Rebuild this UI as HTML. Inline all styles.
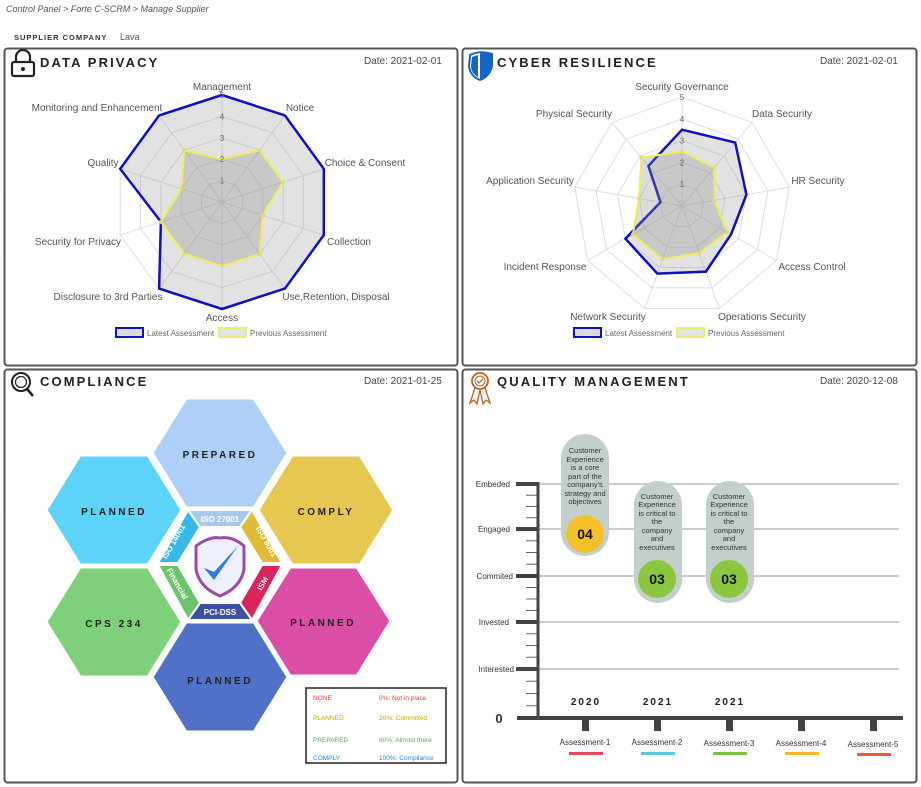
<!DOCTYPE html>
<html><head><meta charset="utf-8"><style>
body{margin:0;background:#fff;width:921px;height:787px;overflow:hidden}
svg{display:block;font-family:"Liberation Sans",Arial,sans-serif}
.t{font-weight:bold;font-size:13px;letter-spacing:2.1px;fill:#222}
.d{font-size:10px;fill:#444}
.l{font-size:10px;fill:#555}
.hx{font-weight:bold;font-size:10px;letter-spacing:2.5px;fill:#222}
.bt{font-size:8px;fill:#fff;font-weight:bold}
.cap{font-size:7.5px;fill:#333}
.ql{font-size:8px;fill:#333}
</style></head><body>
<svg id="s" width="921" height="787" viewBox="0 0 921 787">
<text x="6" y="12" font-size="9" font-style="italic" fill="#555">Control Panel &gt;  Forte C-SCRM &gt; Manage Supplier</text>
<text x="14" y="40" font-size="7.5" font-weight="bold" letter-spacing="1" fill="#333">SUPPLIER COMPANY</text>
<text x="120" y="40" font-size="9" fill="#555">Lava</text>

<rect x="4.5" y="48.5" width="453" height="317" rx="3" fill="#fff" stroke="#555" stroke-width="2"/>
<rect x="462.5" y="48.5" width="454" height="317" rx="3" fill="#fff" stroke="#555" stroke-width="2"/>
<rect x="4.5" y="369.5" width="453" height="413" rx="3" fill="#fff" stroke="#555" stroke-width="2"/>
<rect x="462.5" y="369.5" width="454" height="413" rx="3" fill="#fff" stroke="#555" stroke-width="2"/>

<rect x="12" y="62" width="22" height="14" rx="2" fill="none" stroke="#222" stroke-width="2.2"/>
<path d="M16 62 V57 a7 7 0 0 1 14 0 V62" fill="none" stroke="#222" stroke-width="2.2"/>
<circle cx="23" cy="69" r="2" fill="#222"/>
<text class="t" x="40" y="67">DATA PRIVACY</text>
<text class="d" x="364" y="64">Date: 2021-02-01</text>

<path d="M470 55 Q480 50 492 54 V66 Q490 76 480 80 Q470 76 469 66Z" fill="#fff" stroke="#1565c0" stroke-width="2"/>
<path d="M480 52 Q486 52 492 54 V66 Q490 76 480 80Z" fill="#1565c0"/>
<path d="M472 57 L478 55 V77 Q471 73 471 66Z" fill="#1565c0"/>
<text class="t" x="497" y="67">CYBER RESILIENCE</text>
<text class="d" x="820" y="64">Date: 2021-02-01</text>

<circle cx="21" cy="382" r="9" fill="none" stroke="#222" stroke-width="2"/>
<circle cx="21" cy="382" r="5.5" fill="none" stroke="#222" stroke-width="1.2"/>
<line x1="27" y1="389" x2="33" y2="396" stroke="#222" stroke-width="2.5"/>
<text class="t" x="40" y="386">COMPLIANCE</text>
<text class="d" x="364" y="384">Date: 2021-01-25</text>

<circle cx="480" cy="381" r="8" fill="none" stroke="#b5642a" stroke-width="1.8"/>
<circle cx="480" cy="381" r="5" fill="none" stroke="#b5642a" stroke-width="1"/>
<path d="M477 381 l2 2 l4 -4" fill="none" stroke="#b5642a" stroke-width="1.2"/>
<path d="M475 388 L470 403 L474 400 L477 404 L480 390 M485 388 L490 403 L486 400 L483 404 L480 390" fill="none" stroke="#b5642a" stroke-width="1.3"/>
<text class="t" x="497" y="386">QUALITY MANAGEMENT</text>
<text class="d" x="820" y="384">Date: 2020-12-08</text>

<g id="r1"></g><g id="r2"></g>

<g class="l" text-anchor="middle">
<text x="222" y="90">Management</text>
<text x="300" y="111">Notice</text>
<text x="365" y="166">Choice &amp; Consent</text>
<text x="349" y="245">Collection</text>
<text x="336" y="300">Use,Retention, Disposal</text>
<text x="222" y="321">Access</text>
<text x="108" y="300">Disclosure to 3rd Parties</text>
<text x="78" y="245">Security for Privacy</text>
<text x="103" y="166">Quality</text>
<text x="97" y="111">Monitoring and Enhancement</text>
</g>
<g class="l" text-anchor="middle">
<text x="682" y="90">Security Governance</text>
<text x="782" y="117">Data Security</text>
<text x="818" y="184">HR Security</text>
<text x="812" y="270">Access Control</text>
<text x="762" y="320">Operations Security</text>
<text x="608" y="320">Network Security</text>
<text x="545" y="270">Incident Response</text>
<text x="530" y="184">Application Security</text>
<text x="574" y="117">Physical Security</text>
</g>
<rect x="116" y="328" width="27" height="9" fill="#ddd" stroke="#1010c0" stroke-width="2"/>
<text x="147" y="336" font-size="8" fill="#666">Latest Assessment</text>
<rect x="219" y="328" width="27" height="9" fill="#e4e4e4" stroke="#ecec70" stroke-width="2"/>
<text x="250" y="336" font-size="8" fill="#666">Previous Assessment</text>
<rect x="574" y="328" width="27" height="9" fill="#ddd" stroke="#1010c0" stroke-width="2"/>
<text x="605" y="336" font-size="8" fill="#666">Latest Assessment</text>
<rect x="677" y="328" width="27" height="9" fill="#e4e4e4" stroke="#ecec70" stroke-width="2"/>
<text x="708" y="336" font-size="8" fill="#666">Previous Assessment</text>

<g stroke="#fff" stroke-width="3">
<polygon points="152,453 186,398 254,398 288,453 254,508 186,508" fill="#aed0f7"/>
<polygon points="46,510 80,455 148,455 182,510 148,565 80,565" fill="#5dd3f7"/>
<polygon points="258,510 292,455 360,455 394,510 360,565 292,565" fill="#e6c752"/>
<polygon points="46,622 80,567 148,567 182,622 148,677 80,677" fill="#7ed07a"/>
<polygon points="256,621 290,567 357,567 391,621 357,676 290,676" fill="#db4ea5"/>
<polygon points="152,677 186,622 254,622 288,677 254,732 186,732" fill="#5170c8"/>
</g>
<rect x="180" y="512" width="80" height="104" fill="#fff"/>
<g stroke="#fff" stroke-width="2">
<polygon points="188,510 252,510 240,527 200,527" fill="#a9c8f0"/>
<polygon points="252,510 282,563 262,563 240,527" fill="#e0bb3a"/>
<polygon points="282,565 252,620 240,603 262,565" fill="#d9245c"/>
<polygon points="252,620 188,620 200,603 240,603" fill="#3c4fa0"/>
<polygon points="188,620 158,565 178,565 200,603" fill="#6cc36e"/>
<polygon points="158,563 188,510 200,527 178,563" fill="#38b8e8"/>
</g>
<text class="bt" x="220" y="522" text-anchor="middle">ISO 27001</text>
<text class="bt" x="220" y="615" text-anchor="middle">PCI-DSS</text>
<text class="bt" transform="translate(176,543) rotate(-60)" text-anchor="middle">ISO 14001</text>
<text class="bt" transform="translate(264,543) rotate(60)" text-anchor="middle">ISO 9001</text>
<text class="bt" transform="translate(265,585) rotate(-60)" text-anchor="middle">ISM</text>
<text class="bt" transform="translate(175,585) rotate(60)" text-anchor="middle">Financial</text>
<path d="M196 546 Q210 536 220 538 Q232 536 244 546 V570 Q240 588 220 596 Q200 588 196 570Z" fill="#eef0fb" stroke="#9b4ca8" stroke-width="3"/>
<path d="M204 568 L214 580 L238 546 L214 572Z" fill="#2f7be0"/>
<g class="hx" text-anchor="middle">
<text x="220" y="458">PREPARED</text>
<text x="114" y="515">PLANNED</text>
<text x="326" y="515">COMPLY</text>
<text x="114" y="627">CPS 234</text>
<text x="323" y="626">PLANNED</text>
<text x="220" y="684">PLANNED</text>
</g>
<rect x="306" y="688" width="140" height="75" fill="#fff" stroke="#222" stroke-width="1.5"/>
<g font-size="6.5">
<text x="313" y="700" fill="#e53935">NONE</text><text x="379" y="700" fill="#e53935">0%: Not in place</text>
<text x="313" y="720" fill="#c9a400">PLANNED</text><text x="379" y="720" fill="#c9a400">20%: Committed</text>
<text x="313" y="742" fill="#4caf50">PREPARED</text><text x="379" y="742" fill="#4caf50">80%: Almost there</text>
<text x="313" y="760" fill="#1e88e5">COMPLY</text><text x="379" y="760" fill="#1e88e5">100%: Compliance</text>
</g>

<g stroke="#999" stroke-width="1">
<line x1="538" y1="484" x2="899" y2="484"/><line x1="538" y1="529" x2="899" y2="529"/>
<line x1="538" y1="576" x2="899" y2="576"/><line x1="538" y1="622" x2="899" y2="622"/>
<line x1="538" y1="669" x2="899" y2="669"/>
</g>
<g id="qt"></g>
<line x1="538" y1="482" x2="538" y2="720" stroke="#444" stroke-width="3"/>
<line x1="517" y1="718" x2="903" y2="718" stroke="#444" stroke-width="4"/>
<g fill="#444">
<rect x="516" y="482" width="22" height="4"/><rect x="516" y="527" width="22" height="4"/>
<rect x="516" y="574" width="22" height="4"/><rect x="516" y="620" width="22" height="4"/>
<rect x="516" y="667" width="22" height="4"/>
<rect x="582" y="718" width="7" height="13"/><rect x="654" y="718" width="7" height="13"/>
<rect x="726" y="718" width="7" height="13"/><rect x="798" y="718" width="7" height="13"/>
<rect x="870" y="718" width="7" height="13"/>
</g>
<g class="ql" text-anchor="end">
<text x="510" y="487">Embeded</text><text x="510" y="532">Engaged</text>
<text x="513" y="579">Commited</text><text x="509" y="625">Invested</text>
<text x="514" y="672">Interested</text>
</g>
<text x="499" y="723" font-size="13" font-weight="bold" fill="#333" text-anchor="middle">0</text>
<g font-size="10" font-weight="bold" letter-spacing="2" fill="#222" text-anchor="middle">
<text x="586" y="705">2020</text><text x="658" y="705">2021</text><text x="730" y="705">2021</text>
</g>
<g class="ql" text-anchor="middle">
<text x="585" y="745">Assessment-1</text><text x="657" y="745">Assessment-2</text>
<text x="729" y="746">Assessment-3</text><text x="801" y="746">Assessment-4</text>
<text x="873" y="747">Assessment-5</text>
</g>
<rect x="569" y="752" width="34" height="3" fill="#e84a5f"/>
<rect x="641" y="752" width="34" height="3" fill="#5bc8dc"/>
<rect x="713" y="752" width="34" height="3" fill="#7cc242"/>
<rect x="785" y="752" width="34" height="3" fill="#f4b82e"/>
<rect x="857" y="753" width="34" height="3" fill="#f05a28"/>
<rect x="561" y="434" width="48" height="122" rx="24" fill="#c3cfcd"/>
<rect x="634" y="481" width="48" height="122" rx="24" fill="#c3cfcd"/>
<rect x="706" y="481" width="48" height="122" rx="24" fill="#c3cfcd"/>
<circle cx="585" cy="534" r="19" fill="#f4c12a"/>
<circle cx="657" cy="579" r="19" fill="#8cc63f"/>
<circle cx="729" cy="579" r="19" fill="#8cc63f"/>
<g font-size="14" font-weight="bold" fill="#111" text-anchor="middle">
<text x="585" y="539">04</text><text x="657" y="584">03</text><text x="729" y="584">03</text>
</g>
<g class="cap" text-anchor="middle">
<text x="585" y="453">Customer</text><text x="585" y="462">Experience</text><text x="585" y="470">is a core</text>
<text x="585" y="479">part of the</text><text x="585" y="487">company's</text><text x="585" y="496">strategy and</text>
<text x="585" y="504">objectives</text>
<text x="657" y="499">Customer</text><text x="657" y="507">Experience</text><text x="657" y="516">is critical to</text>
<text x="657" y="524">the</text><text x="657" y="533">company</text><text x="657" y="541">and</text><text x="657" y="550">executives</text>
<text x="729" y="499">Customer</text><text x="729" y="507">Experience</text><text x="729" y="516">is critical to</text>
<text x="729" y="524">the</text><text x="729" y="533">company</text><text x="729" y="541">and</text><text x="729" y="550">executives</text>
</g>
</svg>
<script>
var NS="http://www.w3.org/2000/svg";
function el(p,n,a){var e=document.createElementNS(NS,n);for(var k in a)e.setAttribute(k,a[k]);p.appendChild(e);return e;}
function radar(id,cx,cy,u,n,latest,prev){
 var g=document.getElementById(id);
 function pt(i,v){var a=2*Math.PI*i/n;return [cx+Math.sin(a)*v*u,cy-Math.cos(a)*v*u];}
 function poly(vals){return vals.map(function(v,i){var p=pt(i,v);return p[0].toFixed(1)+","+p[1].toFixed(1)}).join(" ");}
 for(var r=5;r>=1;r--){var vs=[];for(var i=0;i<n;i++)vs.push(r);el(g,"polygon",{points:poly(vs),fill:"none",stroke:"#ddd","stroke-width":1});}
 for(var i=0;i<n;i++){var p=pt(i,5);el(g,"line",{x1:cx,y1:cy,x2:p[0],y2:p[1],stroke:"#ddd"});}
 el(g,"polygon",{points:poly(latest),fill:"rgba(160,160,160,0.3)",stroke:"#1010c0","stroke-width":2.5});
 el(g,"polygon",{points:poly(prev),fill:"rgba(140,140,140,0.3)",stroke:"#f0ec60","stroke-width":2});
 prev.forEach(function(v,i){var p=pt(i,v);el(g,"circle",{cx:p[0],cy:p[1],r:2,fill:"#e0dc70"});});
 for(var k=1;k<=5;k++){var t=el(g,"text",{x:cx,y:cy-k*u+3,"font-size":8,fill:"#666","text-anchor":"middle"});t.textContent=k;}
}
radar("r1",222,202,21.4,10,[5,5,5,5,5,5,5,3,5,5],[2,3,3,2,3,3,3,3,2,3]);
radar("r2",682,206,21.8,9,[3.5,3.8,3,2.6,3.2,3.3,3,1,2.4],[2.5,2.3,1.5,2.4,2.3,2.6,2.6,2,2.9]);
var q=document.getElementById("qt");
var ys=[484,529,576,622,669,718];
for(var j=0;j<5;j++){for(var m=1;m<=3;m++){var yy=ys[j]+(ys[j+1]-ys[j])*m/4;el(q,"line",{x1:526,y1:yy,x2:538,y2:yy,stroke:"#666","stroke-width":1});}}
</script>
</body></html>
